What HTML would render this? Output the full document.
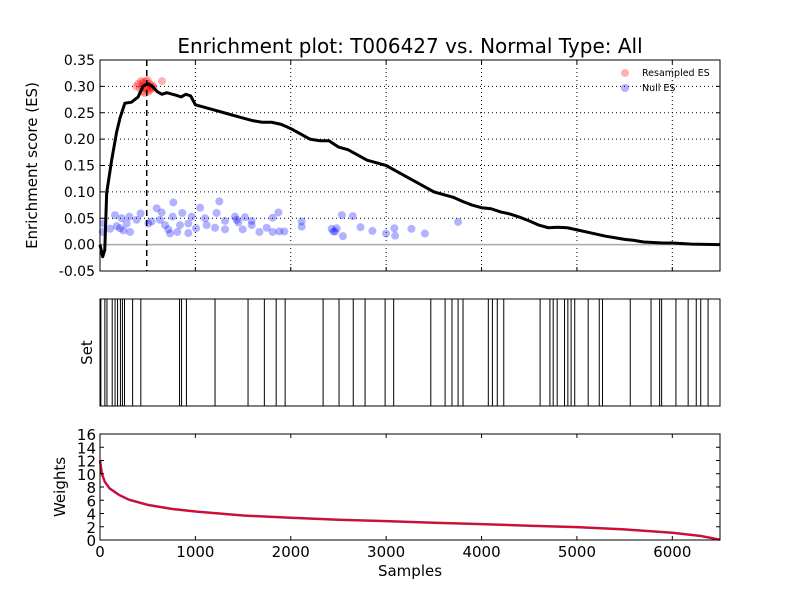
<!DOCTYPE html>
<html><head><meta charset="utf-8"><style>
body{margin:0;background:#fff;}
svg{display:block;font-family:"DejaVu Sans","Liberation Sans",sans-serif;}
</style></head><body>
<svg id="c" width="800" height="600"></svg>
<script>
const esSamples=[0,28,50,70,122,175,210,260,330,400,450,500,550,600,650,700,800,850,900,950,1000,1100,1200,1300,1400,1500,1600,1700,1800,1900,2000,2100,2200,2300,2400,2500,2600,2700,2800,2900,3000,3100,3200,3300,3400,3500,3600,3700,3800,3900,4000,4100,4200,4300,4400,4500,4600,4700,4800,4900,5000,5100,5200,5300,5400,5500,5600,5700,5800,5900,6000,6200,6500];
const esValues=[0,-0.023,-0.01,0.098,0.16,0.214,0.24,0.268,0.27,0.28,0.3,0.305,0.3,0.29,0.285,0.288,0.283,0.28,0.285,0.282,0.265,0.26,0.255,0.25,0.245,0.24,0.235,0.232,0.232,0.228,0.22,0.21,0.2,0.197,0.197,0.185,0.18,0.17,0.16,0.155,0.15,0.14,0.13,0.12,0.11,0.1,0.095,0.09,0.082,0.075,0.07,0.068,0.062,0.058,0.052,0.045,0.037,0.032,0.033,0.032,0.028,0.024,0.02,0.016,0.013,0.01,0.008,0.005,0.004,0.003,0.003,0.001,0];
const nullX=[35,157,227,210,245,280,315,308,384,426,507,542,594,647,629,682,734,716,769,762,811,839,863,926,926,961,1007,1049,1101,1118,1206,1223,1251,1311,1311,1415,1433,1450,1496,1520,1590,1590,1671,1748,1810,1810,1870,1880,1933,2114,2114,2429,2481,28,105,175,2447,2465,2536,2547,2650,2731,2856,2998,3086,3094,3265,3406,3754];
const nullY=[0.040,0.056,0.050,0.031,0.027,0.040,0.024,0.053,0.047,0.059,0.040,0.044,0.069,0.061,0.047,0.037,0.021,0.029,0.080,0.053,0.024,0.037,0.060,0.040,0.022,0.053,0.031,0.070,0.050,0.037,0.032,0.060,0.082,0.045,0.029,0.053,0.047,0.042,0.029,0.052,0.045,0.037,0.024,0.032,0.051,0.024,0.061,0.025,0.025,0.044,0.034,0.030,0.031,0.024,0.030,0.035,0.025,0.025,0.056,0.016,0.054,0.033,0.026,0.021,0.031,0.017,0.030,0.021,0.043];
const resX=[380,400,420,430,440,450,460,470,480,490,500,510,520,530,540,550,560,470,450,500,520,650];
const resY=[0.300,0.305,0.295,0.310,0.300,0.290,0.305,0.298,0.310,0.295,0.302,0.290,0.305,0.300,0.296,0.302,0.298,0.287,0.308,0.312,0.293,0.310];
const hits=[9,51,73,128,158,184,214,235,257,342,428,834,855,906,1206,1552,1723,1847,1941,2339,2506,2655,2779,2989,3079,3468,3618,3690,3754,3806,4071,4114,4165,4233,4614,4717,4751,4793,4870,4905,4939,4977,5118,5234,5268,5559,5777,5867,5888,6038,6166,6251,6298,6375];
const wX=[0,20,50,100,200,300,500,750,1000,1500,2000,2500,3000,3500,4000,4500,5000,5500,6000,6300,6500];
const wY=[12,10,8.8,7.8,6.8,6.1,5.3,4.7,4.3,3.7,3.35,3.05,2.85,2.6,2.4,2.15,1.95,1.6,1.1,0.6,0.05];
const xTicks=[0,1000,2000,3000,4000,5000,6000];
const esTicks=[-0.05,0,0.05,0.1,0.15,0.2,0.25,0.3,0.35];
const wTicks=[0,2,4,6,8,10,12,14,16];
const peakX=490;

const svg=document.getElementById('c');
const NS='http://www.w3.org/2000/svg';
function el(t,a,p){const e=document.createElementNS(NS,t);for(const k in a)e.setAttribute(k,a[k]);(p||svg).appendChild(e);return e;}
const L=100,R=720;
const sx=v=>L+v/6500*(R-L);
const T1=60,B1=271,T2=299,B2=406,T3=434,B3=540;
const sy1=v=>B1-(v+0.05)/0.4*(B1-T1);
const sy3=v=>B3-v/16*(B3-T3);

let t=el('text',{x:410,y:53,'text-anchor':'middle','font-size':20});t.textContent='Enrichment plot: T006427 vs. Normal Type: All';



const g1=el('g',{});


xTicks.forEach(v=>{if(v>0)el('line',{x1:sx(v),x2:sx(v),y1:T1,y2:B1,stroke:'#000','stroke-width':1,'stroke-dasharray':'1,3'},g1);
 el('line',{x1:sx(v),x2:sx(v),y1:B1,y2:B1-4,stroke:'#000'},g1);el('line',{x1:sx(v),x2:sx(v),y1:T1,y2:T1+4,stroke:'#000'},g1);});
esTicks.forEach(v=>{const y=sy1(v);if(v>-0.05&&v<0.35)el('line',{x1:L,x2:R,y1:y,y2:y,stroke:'#000','stroke-dasharray':'1,3'},g1);
 el('line',{x1:L,x2:L+4,y1:y,y2:y,stroke:'#000'},g1);el('line',{x1:R,x2:R-4,y1:y,y2:y,stroke:'#000'},g1);
 const tt=el('text',{x:L-5,y:y+5,'text-anchor':'end','font-size':14},g1);tt.textContent=v.toFixed(2);
 
 });
el('line',{x1:L,x2:R,y1:sy1(0),y2:sy1(0),stroke:'#aaa','stroke-width':1.5},g1);
nullX.forEach((x,i)=>{const c=el('circle',{cx:sx(x),cy:sy1(nullY[i]),r:4,fill:'#0000ff','fill-opacity':0.3},g1);
 
 });
resX.forEach((x,i)=>{const c=el('circle',{cx:sx(x),cy:sy1(resY[i]),r:4,fill:'#ff0000','fill-opacity':0.3},g1);
 
 });
const esLine=el('polyline',{points:esSamples.map((x,i)=>sx(x)+','+sy1(esValues[i])).join(' '),fill:'none',stroke:'#000','stroke-width':3,'stroke-linejoin':'round'},g1);


const pk=el('line',{x1:sx(peakX),x2:sx(peakX),y1:T1,y2:B1,stroke:'#000','stroke-width':1.5,'stroke-dasharray':'6,4'},g1);


el('rect',{x:L,y:T1,width:R-L,height:B1-T1,fill:'none',stroke:'#000'},g1);
t=el('text',{transform:`translate(37,${(T1+B1)/2}) rotate(-90)`,'text-anchor':'middle','font-size':15},g1);t.textContent='Enrichment score (ES)';


const lg=el('g',{},g1);


el('circle',{cx:625,cy:73,r:4,fill:'#f00','fill-opacity':0.3},lg);
el('circle',{cx:625,cy:88,r:4,fill:'#00f','fill-opacity':0.3},lg);
t=el('text',{x:642,y:76,'font-size':9.5},lg);t.textContent='Resampled ES';
t=el('text',{x:642,y:91,'font-size':9.5},lg);t.textContent='Null ES';

const g2=el('g',{});


hits.forEach(h=>{const l=el('line',{x1:sx(h),x2:sx(h),y1:T2,y2:B2,stroke:'#000','stroke-width':1},g2);
 
 });
el('rect',{x:L,y:T2,width:R-L,height:B2-T2,fill:'none',stroke:'#000'},g2);
t=el('text',{transform:`translate(92,${(T2+B2)/2}) rotate(-90)`,'text-anchor':'middle','font-size':15},g2);t.textContent='Set';



const g3=el('g',{});


el('polyline',{points:wX.map((x,i)=>sx(x)+','+sy3(wY[i])).join(' '),fill:'none',stroke:'#7030a0','stroke-width':2.5},g3);
const wl=el('polyline',{points:wX.map((x,i)=>sx(x)+','+sy3(wY[i])).join(' '),fill:'none',stroke:'#ff0000','stroke-width':1.5},g3);


el('rect',{x:L,y:T3,width:R-L,height:B3-T3,fill:'none',stroke:'#000'},g3);
wTicks.forEach(v=>{const y=sy3(v);el('line',{x1:L,x2:L+4,y1:y,y2:y,stroke:'#000'},g3);el('line',{x1:R,x2:R-4,y1:y,y2:y,stroke:'#000'},g3);
 const tt=el('text',{x:L-4,y:y+6,'text-anchor':'end','font-size':15},g3);tt.textContent=v;
 
 });
xTicks.forEach(v=>{el('line',{x1:sx(v),x2:sx(v),y1:B3,y2:B3-4,stroke:'#000'},g3);el('line',{x1:sx(v),x2:sx(v),y1:T3,y2:T3+4,stroke:'#000'},g3);
 const tt=el('text',{x:sx(v),y:B3+17,'text-anchor':'middle','font-size':15},g3);tt.textContent=v;
 
 });
t=el('text',{transform:`translate(65,${(T3+B3)/2}) rotate(-90)`,'text-anchor':'middle','font-size':15},g3);t.textContent='Weights';


t=el('text',{x:410,y:576,'text-anchor':'middle','font-size':15},g3);t.textContent='Samples';


</script>
</body></html>
